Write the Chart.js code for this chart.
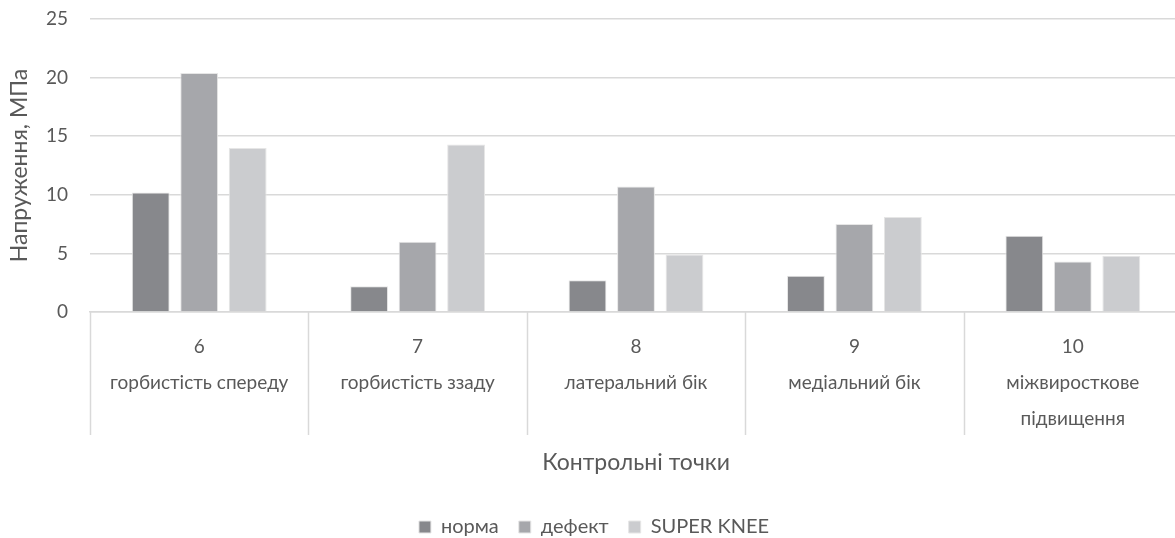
<!DOCTYPE html>
<html>
<head>
<meta charset="utf-8">
<script src="https://cdn.jsdelivr.net/npm/chart.js@4.4.1/dist/chart.umd.min.js"></script>
<style>
  html, body { margin: 0; padding: 0; background: #fff; overflow: hidden; }
  #wrap { width: 1190px; height: 538px; position: relative; }
</style>
</head>
<body>
<div id="wrap"><canvas id="c"></canvas></div>
<script>
const categories = [
  ['6', 'горбистість спереду'],
  ['7', 'горбистість ззаду'],
  ['8', 'латеральний бік'],
  ['9', 'медіальний бік'],
  ['10', 'міжвиросткове', 'підвищення']
];
const seriesNames = ['норма', 'дефект', 'SUPER KNEE'];
const norma = [10.2, 2.2, 2.7, 3.1, 6.5];
const defekt = [20.4, 6.0, 10.7, 7.5, 4.3];
const superKnee = [14.0, 14.3, 4.9, 8.1, 4.8];
const yTicks = [0, 5, 10, 15, 20, 25];
const xTitle = 'Контрольні точки';
const yTitle = 'Напруження, МПа';

const colors = ['#87888c', '#a6a7ab', '#cbcccf'];
const textColor = '#595959';
const gridColor = '#d9d9d9';
const FONT = 'Lato, "Open Sans", sans-serif';

const seriesData = [norma, defekt, superKnee];

// draws the vertical category separators of the multi-level category axis
const separators = {
  id: 'separators',
  afterDraw(chart) {
    const s = chart.scales.x;
    const ctx = chart.ctx;
    const n = chart.data.labels.length;
    const w = (s.right - s.left) / n;
    ctx.save();
    ctx.strokeStyle = gridColor;
    ctx.lineWidth = 1.5;
    for (let i = 0; i <= n; i++) {
      const x = Math.round(s.left + i * w) + 0.5;
      ctx.beginPath();
      ctx.moveTo(x, s.top);
      ctx.lineTo(x, s.top + 123);
      ctx.stroke();
    }
    ctx.restore();
  }
};

new Chart(document.getElementById('c'), {
  type: 'bar',
  data: {
    labels: categories,
    datasets: seriesData.map((d, i) => ({
      label: seriesNames[i],
      data: d,
      backgroundColor: colors[i],
      borderColor: '#e6e6e6',
      borderWidth: 1,
      categoryPercentage: 0.666,
      barPercentage: 0.78
    }))
  },
  plugins: [separators],
  options: {
    responsive: true,
    maintainAspectRatio: false,
    animation: false,
    layout: { padding: { left: 6, right: 8, top: 0, bottom: -9 } },
    plugins: {
      legend: {
        position: 'bottom',
        labels: {
          boxWidth: 12, boxHeight: 12,
          color: textColor,
          font: { family: FONT, size: 20 },
          padding: 20
        }
      },
      tooltip: { enabled: false }
    },
    scales: {
      x: {
        offset: true,
        grid: {
          display: true,
          drawOnChartArea: false,
          drawTicks: false,
          color: gridColor
        },
        border: { color: gridColor, width: 1.5 },
        ticks: {
          color: textColor,
          font: { family: FONT, size: 19, lineHeight: 1.9 },
          padding: 17,
          maxRotation: 0,
          autoSkip: false
        },
        title: {
          display: true,
          text: xTitle,
          color: textColor,
          font: { family: FONT, size: 23 },
          padding: { top: 10, bottom: 21 }
        },
        afterFit: (scale) => { scale.height = 185; }
      },
      y: {
        min: 0, max: 25,
        afterBuildTicks: (scale) => { scale.ticks = yTicks.map(v => ({ value: v })); },
        grid: { color: gridColor, drawTicks: false, lineWidth: 1.5 },
        border: { display: false },
        ticks: {
          color: textColor,
          font: { family: FONT, size: 19 },
          padding: 22
        },
        title: {
          display: true,
          text: yTitle,
          color: textColor,
          font: { family: FONT, size: 23 },
          padding: { top: 0, bottom: 4 }
        },
        afterFit: (scale) => {
          scale.width = 84;
          scale.paddingTop = 19;
          scale.paddingBottom = 0;
        }
      }
    }
  }
});
</script>
</body>
</html>
